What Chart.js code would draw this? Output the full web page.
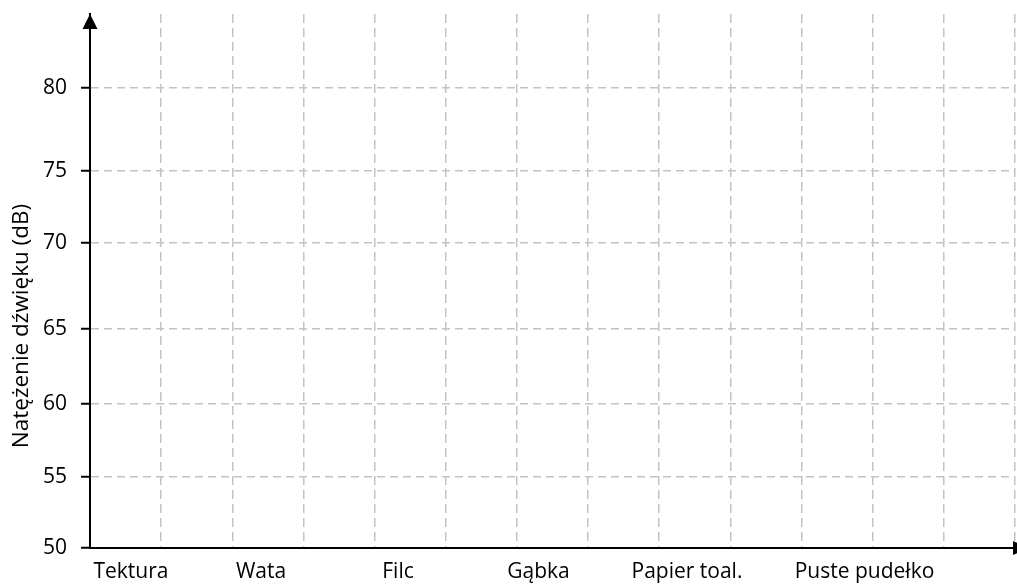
<!DOCTYPE html>
<html>
<head>
<meta charset="utf-8">
<script src="https://cdn.jsdelivr.net/npm/chart.js@4.4.1/dist/chart.umd.min.js"></script>
<style>
  html, body { margin: 0; padding: 0; background: #ffffff; }
  #wrap { width: 1017px; height: 584px; }
</style>
</head>
<body>
<div id="wrap"><canvas id="c" width="1017" height="584"></canvas></div>
<script>
// ---- data ----
const categories = ['Tektura', 'Wata', 'Filc', 'Gąbka', 'Papier toal.', 'Puste pudełko'];
const yTickValues = [50, 55, 60, 65, 70, 75, 80];
const yTitle = 'Natężenie dźwięku (dB)';

// ---- layout (not data) ----
const categoryAt = [0.576, 2.403, 4.329, 6.303, 8.39, 10.885]; // label centres in grid units
const gridCells = 13;
const yDrawnAt = [50, 54.63, 59.39, 64.28, 69.89, 74.59, 80]; // hand-drawn tick spacing
const FONT = "'Open Sans', 'DejaVu Sans', sans-serif";
const GRID = '#c3c3c3';

function interp(v, a, b) {
  if (v <= a[0]) return b[0] + (v - a[0]);
  for (let i = 1; i < a.length; i++) {
    if (v <= a[i]) {
      const t = (v - a[i - 1]) / (a[i] - a[i - 1]);
      return b[i - 1] + t * (b[i] - b[i - 1]);
    }
  }
  return b[b.length - 1] + (v - a[a.length - 1]);
}

class WarpedScale extends Chart.LinearScale {
  getPixelForValue(value) {
    return super.getPixelForValue(interp(value, yTickValues, yDrawnAt));
  }
  getValueForPixel(pixel) {
    return interp(super.getValueForPixel(pixel), yDrawnAt, yTickValues);
  }
  drawTitle() {
    const ctx = this.ctx;
    ctx.save();
    ctx.translate(0, 45);
    super.drawTitle();
    ctx.restore();
  }
}
WarpedScale.id = 'warped';
WarpedScale.defaults = Chart.LinearScale.defaults;
Chart.register(WarpedScale);

const arrows = {
  id: 'arrows',
  afterDraw(chart) {
    const { ctx, chartArea: a } = chart;
    ctx.save();
    ctx.fillStyle = '#000';
    // y-axis arrow
    ctx.beginPath();
    ctx.moveTo(a.left, a.top);
    ctx.lineTo(a.left - 7.5, a.top + 15);
    ctx.lineTo(a.left + 7.5, a.top + 15);
    ctx.closePath();
    ctx.fill();
    // x-axis arrow (cut by the page edge)
    ctx.beginPath();
    ctx.moveTo(a.right - 2, a.bottom - 7);
    ctx.lineTo(a.right + 13, a.bottom);
    ctx.lineTo(a.right - 2, a.bottom + 7);
    ctx.closePath();
    ctx.fill();
    ctx.restore();
  }
};

new Chart(document.getElementById('c'), {
  type: 'line',
  data: { datasets: [] },
  plugins: [arrows],
  options: {
    responsive: false,
    animation: false,
    devicePixelRatio: 1,
    layout: { padding: { top: 14, right: 2, left: 0, bottom: 0 } },
    plugins: { legend: { display: false }, tooltip: { enabled: false } },
    scales: {
      x: {
        type: 'linear',
        position: 'bottom',
        min: 0,
        max: gridCells,
        afterBuildTicks: s => { s.ticks = Array.from({ length: gridCells + 1 }, (_, i) => ({ value: i })); },
        afterFit: s => { s.height = 0; s.paddingLeft = 0; s.paddingRight = 0; },
        ticks: { display: false },
        grid: {
          drawTicks: false,
          color: c => (c.tick && c.tick.value === 0 ? 'rgba(0,0,0,0)' : GRID),
          lineWidth: 1.5
        },
        border: { display: true, color: '#000', width: 2, dash: [9, 5] }
      },
      xl: {
        type: 'linear',
        position: 'bottom',
        min: 0,
        max: gridCells,
        afterBuildTicks: s => { s.ticks = categoryAt.map(v => ({ value: v })); },
        afterFit: s => { s.height = 36; s.paddingLeft = 0; s.paddingRight = 0; },
        grid: { display: false, drawTicks: false },
        border: { display: false },
        ticks: {
          autoSkip: false,
          maxRotation: 0,
          padding: 11,
          color: '#000',
          font: { family: FONT, size: 21 },
          callback: (v, i) => categories[i]
        }
      },
      y: {
        type: 'warped',
        position: 'left',
        min: 50,
        max: 84.83,
        afterBuildTicks: s => { s.ticks = yTickValues.map(v => ({ value: v })); },
        afterFit: s => { s.width = 90; s.paddingTop = 0; s.paddingBottom = 0; },
        ticks: {
          color: '#000',
          padding: 14,
          font: { family: FONT, size: 21 },
          callback: v => String(v)
        },
        grid: {
          color: c => (c.tick && c.tick.value === 50 ? 'rgba(0,0,0,0)' : GRID),
          lineWidth: 1.5,
          tickColor: '#000',
          tickLength: 9,
          tickWidth: 2
        },
        border: { display: true, color: '#000', width: 2, dash: [8, 5] },
        title: {
          display: true,
          text: yTitle,
          color: '#000',
          padding: { top: 8, bottom: 0 },
          font: { family: FONT, size: 22.5 }
        }
      }
    }
  }
});
</script>
</body>
</html>
